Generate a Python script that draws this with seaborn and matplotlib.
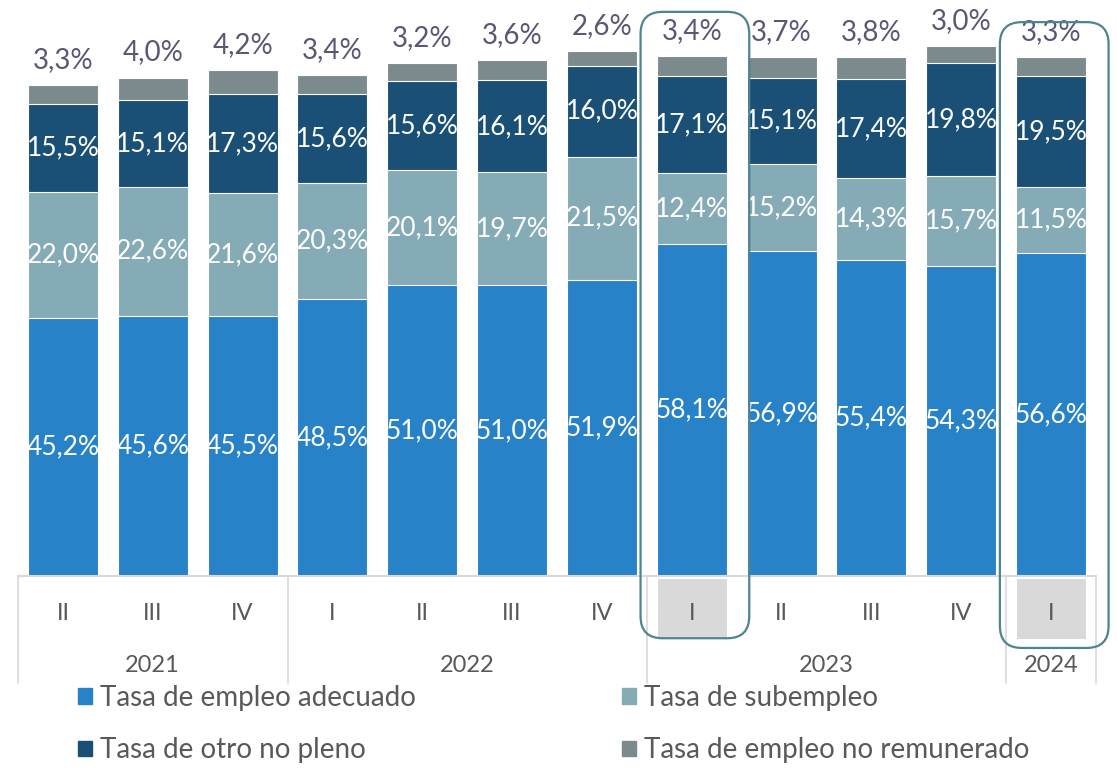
import matplotlib
matplotlib.use("Agg")
import matplotlib.pyplot as plt
import seaborn as sns
import pandas as pd
import numpy as np
from matplotlib.patches import FancyBboxPatch, Patch, Rectangle

years = ["2021", "2021", "2021", "2022", "2022", "2022", "2022",
         "2023", "2023", "2023", "2023", "2024"]
quarters = ["II", "III", "IV", "I", "II", "III", "IV", "I", "II", "III", "IV", "I"]

adecuado = [45.2, 45.6, 45.5, 48.5, 51.0, 51.0, 51.9, 58.1, 56.9, 55.4, 54.3, 56.6]
subempleo = [22.0, 22.6, 21.6, 20.3, 20.1, 19.7, 21.5, 12.4, 15.2, 14.3, 15.7, 11.5]
otro_no_pleno = [15.5, 15.1, 17.3, 15.6, 15.6, 16.1, 16.0, 17.1, 15.1, 17.4, 19.8, 19.5]
no_remunerado = [3.3, 4.0, 4.2, 3.4, 3.2, 3.6, 2.6, 3.4, 3.7, 3.8, 3.0, 3.3]

series_names = ["Tasa de empleo adecuado", "Tasa de subempleo",
                "Tasa de otro no pleno", "Tasa de empleo no remunerado"]
series_colors = ["#2882C8", "#85ABB6", "#1A4F76", "#7B8B8D"]
highlight = [7, 11]  # 2023-I y 2024-I

TEXT_GREY = "#595959"
TOP_LABEL = "#5A5775"
LINE_GREY = "#D9D9D9"
BOX_COLOR = "#4E8491"

periodo = [f"{y}-{q}" for y, q in zip(years, quarters)]
stack = np.array([adecuado, subempleo, otro_no_pleno, no_remunerado])
cum = np.cumsum(stack, axis=0)

sns.set_theme(style="white")
plt.rcParams["font.family"] = ["Lato", "DejaVu Sans"]

W, H = 1117, 768
fig = plt.figure(figsize=(W / 100, H / 100), dpi=100)
ax = fig.add_axes([18 / W, 192 / H, 1078 / W, 571 / H])

# stacked bars: draw cumulative totals from the top series down
for i in reversed(range(len(series_names))):
    sns.barplot(x=periodo, y=cum[i], color=series_colors[i], saturation=1,
                width=0.78, edgecolor="white", linewidth=0.8,
                errorbar=None, ax=ax)

ax.set_xlim(-0.5, len(periodo) - 0.5)
ax.set_ylim(0, 100)
ax.set_axis_off()

def fmt(v):
    return f"{v:.1f}%".replace(".", ",")

for j in range(len(periodo)):
    for i in range(3):
        ax.text(j, cum[i][j] - stack[i][j] / 2, fmt(stack[i][j]),
                ha="center", va="center", color="white", fontsize=19)
    ax.annotate(fmt(stack[3][j]), xy=(j, cum[3][j]), xytext=(0, 18),
                textcoords="offset points", ha="center", va="center",
                color=TOP_LABEL, fontsize=20)

# multi-level category axis
trans = ax.get_xaxis_transform()
ax.plot([-0.5, len(periodo) - 0.5], [0, 0], transform=trans,
        color=LINE_GREY, lw=1.5, clip_on=False)

bounds = [-0.5] + [j + 0.5 for j in range(len(years) - 1) if years[j] != years[j + 1]] + [len(years) - 0.5]
for xb in bounds:
    ax.plot([xb, xb], [0, -0.187], transform=trans, color=LINE_GREY,
            lw=1.2, clip_on=False)

for j in highlight:
    ax.add_patch(Rectangle((j - 0.38, -0.111), 0.77, 0.106, transform=trans,
                           facecolor=LINE_GREY, edgecolor="none", clip_on=False))

for j, q in enumerate(quarters):
    ax.text(j, -0.065, q, transform=trans, ha="center", va="center",
            color=TEXT_GREY, fontsize=17)

year_pos = pd.Series(range(len(years))).groupby(years).mean()
for y, xc in year_pos.items():
    ax.text(xc, -0.156, y, transform=trans, ha="center", va="center",
            color=TEXT_GREY, fontsize=17)

# rounded boxes around the highlighted quarters
fig.canvas.draw()
to_in = fig.dpi_scale_trans.inverted()
box_spans = {7: (0.988, -0.109), 11: (0.970, -0.126)}
for j, (ytop, ybot) in box_spans.items():
    x0 = ax.transData.transform((j - 0.57, 0))[0]
    x1 = ax.transData.transform((j + 0.64, 0))[0]
    y0 = ax.transAxes.transform((0, ybot))[1]
    y1 = ax.transAxes.transform((0, ytop))[1]
    (ix0, iy0), (ix1, iy1) = to_in.transform([(x0, y0), (x1, y1)])
    fig.add_artist(FancyBboxPatch((ix0, iy0), ix1 - ix0, iy1 - iy0,
                                  boxstyle="round,pad=0,rounding_size=0.22",
                                  transform=fig.dpi_scale_trans, fill=False,
                                  edgecolor=BOX_COLOR, lw=1.6, clip_on=False))

handles = [Patch(color=series_colors[k], label=series_names[k]) for k in [0, 2, 1, 3]]
fig.legend(handles=handles, ncol=2, loc="upper left",
           bbox_to_anchor=(53 / W, 1 - 660 / H), frameon=False, fontsize=20,
           handlelength=0.5, handleheight=0.5, handletextpad=0.3,
           columnspacing=7.4, labelspacing=0.95, labelcolor=TEXT_GREY)

fig.savefig("out.png", dpi=100)
